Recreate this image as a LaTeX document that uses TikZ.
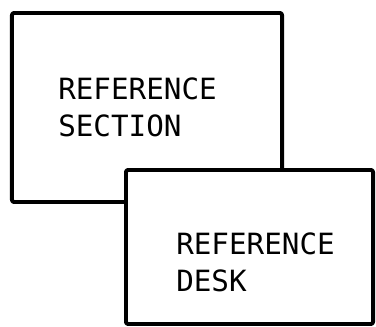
\documentclass[tikz,border=0pt]{standalone}
\usepackage{fontspec}
\newfontfamily\boxfont{DejaVu Sans Mono}
\usetikzlibrary{positioning}

\begin{document}
\begin{tikzpicture}[
  x=0.025cm,y=-0.025cm,
  line cap=round,line join=round,
  area/.style={draw,rectangle,fill=white,line width=2.8pt,rounded corners=1.5pt,inner sep=0pt},
  label text/.style={anchor=west,align=left,inner sep=0pt,
    font=\boxfont\fontsize{20.8}{26.2}\selectfont}
]
  \useasboundingbox (0,0) rectangle (376,327);

  % Back box
  \node[area,minimum width=6.75cm,minimum height=4.725cm] (secbox) at (147,107.5) {};
  \node[label text] (sectext) at (58,107.5) {REFERENCE\\SECTION};

  % Front box, drawn over the corner
  \node[area,minimum width=6.175cm,minimum height=3.85cm] (deskbox) at (249.5,247) {};
  \node[label text] (desktext) at (176,262.5) {REFERENCE\\DESK};
\end{tikzpicture}
\end{document}
